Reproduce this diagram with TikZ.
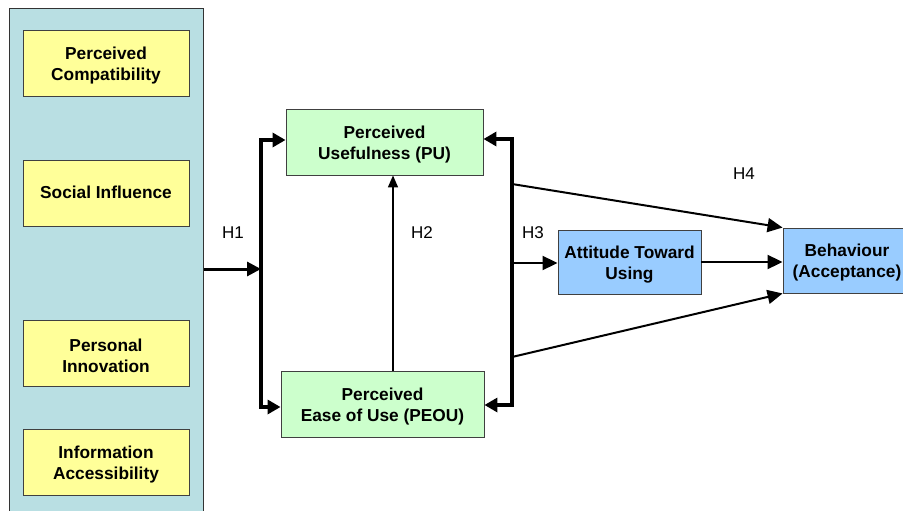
\documentclass[tikz,border=0pt]{standalone}
\usepackage{fontspec}
\setmainfont{Liberation Sans}
\usetikzlibrary{arrows.meta}
\definecolor{panelc}{RGB}{185,223,227}
\definecolor{yellowc}{RGB}{255,255,153}
\definecolor{greenc}{RGB}{204,255,204}
\definecolor{bluec}{RGB}{153,204,255}
\begin{document}
\begin{tikzpicture}[x=1pt,y=-1pt,
  box/.style={draw=black!75, line width=0.9pt, inner sep=0pt},
  txt/.style={align=center, inner sep=0pt, yshift=-2.5pt,
    font=\bfseries\fontsize{17.3}{21}\selectfont},
  ybox/.style={box, fill=yellowc, minimum width=166pt, minimum height=66pt},
  gbox/.style={box, fill=greenc, minimum height=66pt},
  bbox/.style={box, fill=bluec},
  bar/.style={line width=3.5pt, line cap=butt, line join=miter,
    {Triangle[length=13pt,width=14pt]}-{Triangle[length=13pt,width=14pt]}},
  harr/.style={line width=3pt, -{Triangle[length=14pt,width=14pt]}},
  arr/.style={line width=2pt, -{Triangle[length=15pt,width=14pt]}},
  hlabel/.style={font=\fontsize{17}{20}\selectfont, inner sep=0pt}]
\useasboundingbox (0,0) rectangle (903,511);
\clip (0,0) rectangle (903,511);
% left panel
\node[draw=black!80, line width=1pt, fill=panelc, minimum width=194pt, minimum height=520pt, inner sep=0pt] (panel) at (106,269) {};
\node[ybox, label={[txt]center:{Perceived\\Compatibility}}] (pc) at (106,63) {};
\node[ybox, label={[txt, yshift=3.5pt]center:{Social Influence}}] (si) at (106,193.5) {};
\node[ybox, label={[txt]center:{Personal\\Innovation}}] (pi) at (106,353) {};
\node[ybox, label={[txt]center:{Information\\Accessibility}}] (ia) at (106,462) {};
% main boxes
\node[gbox, minimum width=197pt, label={[txt]center:{Perceived\\Usefulness (PU)}}] (pu) at (384.5,142) {};
\node[gbox, minimum width=203pt, label={[txt]center:{Perceived\\Ease of Use (PEOU)}}] (peou) at (382.5,404) {};
\node[bbox, minimum width=143pt, minimum height=64pt, label={[txt]center:{Attitude Toward\\Using}}] (att) at (629.5,262) {};
\node[bbox, minimum width=128pt, minimum height=65pt, label={[txt]center:{Behaviour\\(Acceptance)}}] (beh) at (847,260.5) {};
% coordinates
\coordinate (j1) at (261,269);
\coordinate (l1) at (261,140);
\coordinate (l2) at (261,407);
\coordinate (r1) at (512,139);
\coordinate (r2) at (512,405);
\coordinate (r3) at (512,263);
\coordinate (r4) at (512,184);
\coordinate (r5) at (512,357);
% connectors
\draw[harr] (j1 -| panel.east) -- (j1);
\draw[bar] (l1 -| pu.west) -- (l1) -- (l2) -- (l2 -| peou.west);
\draw[bar] (r1 -| pu.east) -- (r1) -- (r2) -- (r2 -| peou.east);
\draw[line width=1.6pt, -{Triangle[length=12pt,width=10pt]}] ([xshift=10.5pt]peou.north) -- ([xshift=8.5pt]pu.south);
\draw[arr] (r3) -- (r3 -| att.west);
\draw[arr] (r4) -- (beh.north west);
\draw[arr] (r5) -- (beh.south west);
\draw[arr] (att.east) -- (att.east -| beh.west);
% labels
\node[hlabel] (h1) at (233,233) {H1};
\node[hlabel] (h2) at (422,233) {H2};
\node[hlabel] (h3) at (533,233) {H3};
\node[hlabel] (h4) at (744,174) {H4};
\end{tikzpicture}
\end{document}
